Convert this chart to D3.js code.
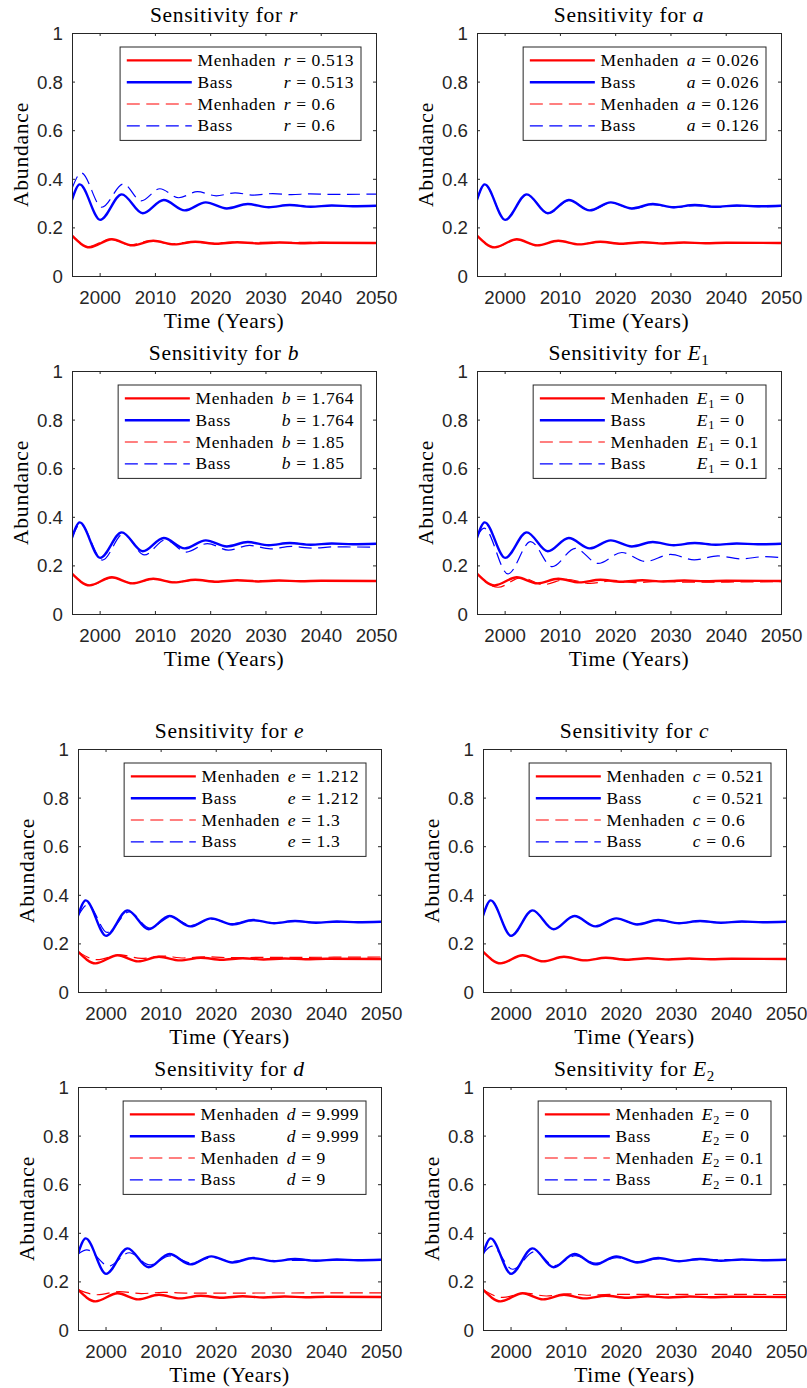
<!DOCTYPE html>
<html><head><meta charset="utf-8">
<script src="https://cdn.jsdelivr.net/npm/d3@7"></script>
<style>body{margin:0;background:#fff} svg{display:block}</style>
</head><body><svg id="chart" width="807" height="1388"></svg>
<script>
// ---------- data ----------
const xTicks = [2000, 2010, 2020, 2030, 2040, 2050];
const yTicks = [0, 0.2, 0.4, 0.6, 0.8, 1];
const params = ["r", "a", "b", "E1", "e", "c", "d", "E2"];
const baseValues = ["0.513", "0.026", "1.764", "0", "1.212", "0.521", "9.999", "0"];
const altValues = ["0.6", "0.126", "1.85", "0.1", "1.3", "0.6", "9", "0.1"];
const seriesNames = ["Menhaden", "Bass", "Menhaden", "Bass"];

// baseline (solid) trajectories
const baseBassT = [1995, 1996.4, 2000.1, 2004.0, 2007.8, 2011.6, 2015.4, 2019.2, 2023.0, 2026.8, 2030.6, 2034.4, 2038.2, 2042.0, 2045.8, 2050];
const baseBassV = [0.313, 0.377, 0.231, 0.336, 0.258, 0.313, 0.270, 0.303, 0.278, 0.296, 0.283, 0.292, 0.285, 0.290, 0.287, 0.289];
const baseMenT = [1995, 1998.2, 2002.2, 2005.9, 2009.7, 2013.5, 2017.3, 2021.1, 2024.9, 2028.7, 2032.5, 2036.3, 2040.1, 2050];
const baseMenV = [0.166, 0.118, 0.151, 0.126, 0.145, 0.130, 0.141, 0.133, 0.139, 0.134, 0.138, 0.135, 0.137, 0.136];

// dashed (altered parameter) trajectories
const rBassT = [1995, 1996.7, 2000.4, 2004.3, 2007.5, 2010.9, 2014.3, 2017.7, 2021.1, 2024.5, 2027.9, 2031.3, 2034.7, 2038.1, 2041.5, 2050];
const rBassV = [0.36, 0.424, 0.283, 0.379, 0.309, 0.359, 0.322, 0.347, 0.330, 0.342, 0.333, 0.339, 0.335, 0.338, 0.336, 0.337];
const rMenT = [1995, 1998.0, 2001.9, 2005.5, 2009.2, 2012.9, 2016.6, 2020.3, 2024.0, 2050];
const rMenV = [0.168, 0.121, 0.152, 0.128, 0.145, 0.132, 0.141, 0.134, 0.139, 0.137];

const aBassT = [1995, 1996.4, 2000.1, 2004.0, 2007.9, 2011.7, 2015.5, 2019.3, 2023.1, 2026.9, 2030.7, 2034.5, 2038.3, 2042.1, 2045.9, 2050];
const aBassV = [0.313, 0.376, 0.232, 0.335, 0.258, 0.311, 0.270, 0.301, 0.277, 0.294, 0.281, 0.290, 0.283, 0.288, 0.285, 0.286];
const aMenT = [1995, 1998.2, 2002.2, 2005.9, 2009.7, 2013.5, 2017.3, 2021.1, 2024.9, 2050];
const aMenV = [0.166, 0.118, 0.150, 0.126, 0.144, 0.130, 0.140, 0.133, 0.138, 0.136];

const bBassT = [1995, 1996.5, 2000.5, 2004.3, 2008.1, 2011.9, 2015.7, 2019.5, 2023.3, 2027.1, 2030.9, 2034.7, 2038.5, 2042.3, 2050];
const bBassV = [0.313, 0.370, 0.222, 0.330, 0.243, 0.305, 0.255, 0.290, 0.263, 0.282, 0.268, 0.278, 0.271, 0.276, 0.275];
const bMenT = [1995, 1998.3, 2002.3, 2006.0, 2009.8, 2013.6, 2017.4, 2021.2, 2025.0, 2050];
const bMenV = [0.166, 0.118, 0.150, 0.126, 0.144, 0.131, 0.140, 0.134, 0.138, 0.136];

const e1BassT = [1995, 1996.3, 2000.6, 2004.7, 2008.6, 2012.8, 2016.9, 2021.2, 2025.5, 2030.0, 2034.3, 2038.6, 2042.8, 2047.0, 2050];
const e1BassV = [0.320, 0.353, 0.165, 0.298, 0.195, 0.270, 0.208, 0.253, 0.216, 0.245, 0.223, 0.239, 0.227, 0.236, 0.232];
const e1MenT = [1995, 1998.8, 2003.0, 2007.0, 2011.2, 2015.5, 2019.8, 2024.0, 2028.3, 2032.6, 2050];
const e1MenV = [0.166, 0.110, 0.150, 0.121, 0.143, 0.126, 0.138, 0.129, 0.135, 0.131, 0.133];

const eBassT = [1995, 1996.8, 2000.3, 2004.3, 2008.0, 2011.8, 2015.5, 2019.3, 2023.0, 2026.8, 2030.6, 2034.4, 2038.2, 2050];
const eBassV = [0.313, 0.360, 0.245, 0.330, 0.263, 0.308, 0.274, 0.300, 0.281, 0.294, 0.285, 0.291, 0.287, 0.289];
const eMenT = [1995, 1998.5, 2002.6, 2006.5, 2010.3, 2014.2, 2018.0, 2021.9, 2050];
const eMenV = [0.166, 0.133, 0.153, 0.138, 0.148, 0.140, 0.145, 0.142, 0.144];

const cBassT = [1995, 1996.4, 2000.1, 2004.0, 2007.8, 2011.6, 2015.4, 2019.2, 2023.0, 2026.8, 2030.6, 2034.4, 2038.2, 2042.0, 2045.8, 2050];
const cBassV = [0.313, 0.377, 0.232, 0.335, 0.259, 0.312, 0.271, 0.302, 0.279, 0.295, 0.284, 0.291, 0.286, 0.289, 0.288, 0.289];
const cMenT = [1995, 1998.2, 2002.2, 2005.9, 2009.7, 2013.5, 2017.3, 2021.1, 2024.9, 2028.7, 2050];
const cMenV = [0.166, 0.119, 0.150, 0.127, 0.144, 0.131, 0.140, 0.134, 0.138, 0.135, 0.136];

const dBassT = [1995, 1996.6, 2000.6, 2004.3, 2008.0, 2011.7, 2015.5, 2019.3, 2023.0, 2026.8, 2030.6, 2050];
const dBassV = [0.313, 0.330, 0.263, 0.318, 0.268, 0.305, 0.276, 0.298, 0.282, 0.294, 0.286, 0.289];
const dMenT = [1995, 1998.5, 2002.5, 2006.5, 2010.5, 2014.5, 2050];
const dMenV = [0.166, 0.145, 0.158, 0.150, 0.155, 0.152, 0.153];

const e2BassT = [1995, 1996.6, 2000.4, 2004.3, 2008.0, 2011.8, 2015.5, 2019.3, 2023.0, 2026.8, 2030.6, 2034.4, 2050];
const e2BassV = [0.313, 0.345, 0.250, 0.322, 0.265, 0.306, 0.275, 0.298, 0.281, 0.293, 0.285, 0.290, 0.288];
const e2MenT = [1995, 1998.6, 2002.6, 2006.5, 2010.3, 2014.2, 2018.0, 2050];
const e2MenV = [0.166, 0.134, 0.152, 0.140, 0.149, 0.143, 0.147, 0.146];

const altBass = [[rBassT, rBassV], [aBassT, aBassV], [bBassT, bBassV], [e1BassT, e1BassV], [eBassT, eBassV], [cBassT, cBassV], [dBassT, dBassV], [e2BassT, e2BassV]];
const altMen = [[rMenT, rMenV], [aMenT, aMenV], [bMenT, bMenV], [e1MenT, e1MenV], [eMenT, eMenV], [cMenT, cMenV], [dMenT, dMenV], [e2MenT, e2MenV]];

// ---------- layout ----------
const colLeft = [[72, 477], [72, 477], [78, 483], [78, 483]];
const rowTop = [33, 371, 749, 1087];
const panelW = [304, 304, 303, 303];
const panelH = 243;
const RED = "#ff0000", BLUE = "#0000ff", AX = "#262626";
const SERIF = "'Liberation Serif', 'DejaVu Serif', 'Times New Roman', serif";
const SANS = "'Liberation Sans', Arial, Helvetica, sans-serif";
const DASH = "13,6.5";

const svg = d3.select("#chart");
const zip = (T, V) => T.map((t, i) => [t, V[i]]);

function addParam(textSel, p) {
  const sym = p[0], sub = p.length > 1 ? p.slice(1) : null;
  textSel.append("tspan").attr("font-style", "italic").text(sym);
  if (sub) {
    textSel.append("tspan").attr("font-size", "0.7em").attr("dy", "0.3em").text(sub);
    return true;
  }
  return false;
}

params.forEach((p, i) => {
  const row = Math.floor(i / 2), col = i % 2;
  const L = colLeft[row][col], T = rowTop[row], W = panelW[row], H = panelH;
  const g = svg.append("g").attr("transform", `translate(${L},${T})`);
  const x = d3.scaleLinear().domain([1995, 2050]).range([0, W]);
  const y = d3.scaleLinear().domain([0, 1]).range([H, 0]);

  const clipId = "clip" + i;
  g.append("clipPath").attr("id", clipId).append("rect").attr("width", W).attr("height", H);

  const line = d3.line().x(d => x(d[0])).y(d => y(d[1])).curve(d3.curveMonotoneX);
  const series = [
    { d: zip(baseMenT, baseMenV), c: RED, w: 2.4, dash: null },
    { d: zip(baseBassT, baseBassV), c: BLUE, w: 2.4, dash: null },
    { d: zip(altMen[i][0], altMen[i][1]), c: RED, w: 1.2, dash: DASH },
    { d: zip(altBass[i][0], altBass[i][1]), c: BLUE, w: 1.2, dash: DASH }
  ];
  const lg = g.append("g").attr("clip-path", `url(#${clipId})`);
  series.forEach(s => {
    lg.append("path").attr("d", line(s.d)).attr("fill", "none")
      .attr("stroke", s.c).attr("stroke-width", s.w)
      .attr("stroke-dasharray", s.dash).attr("stroke-linejoin", "round");
  });

  const gx = g.append("g").attr("transform", `translate(0,${H})`)
    .call(d3.axisBottom(x).tickValues(xTicks).tickSizeInner(-3).tickSizeOuter(0).tickFormat(d3.format("d")));
  const gy = g.append("g")
    .call(d3.axisLeft(y).tickValues(yTicks).tickSizeInner(-3).tickSizeOuter(0).tickPadding(9)
      .tickFormat(d => (d === 0 ? "0" : d === 1 ? "1" : d3.format(".1f")(d))));
  const gt = g.append("g").call(d3.axisTop(x).tickValues(xTicks).tickSizeInner(-3).tickSizeOuter(0).tickFormat(""));
  const gr = g.append("g").attr("transform", `translate(${W},0)`)
    .call(d3.axisRight(y).tickValues(yTicks).tickSizeInner(-3).tickSizeOuter(0).tickFormat(""));
  [gx, gy, gt, gr].forEach(a => {
    a.select(".domain").remove();
    a.selectAll("line").attr("stroke", AX).attr("stroke-width", 1);
    a.attr("font-family", SANS).attr("font-size", 18.7);
    a.selectAll("text").attr("fill", AX);
  });
  gx.selectAll("text").attr("y", 28).attr("dy", null);
  gy.selectAll("text").attr("dy", "0.35em");

  g.append("rect").attr("x", 0.5).attr("y", 0.5).attr("width", W).attr("height", H)
    .attr("fill", "none").attr("stroke", AX).attr("stroke-width", 1);

  const title = g.append("text").attr("x", W / 2).attr("y", -11).attr("text-anchor", "middle")
    .attr("font-family", SERIF).attr("font-size", 21.5).attr("letter-spacing", 0.7).attr("fill", "#000");
  title.append("tspan").text("Sensitivity for ");
  addParam(title, p);

  g.append("text").attr("x", W / 2).attr("y", H + 52).attr("text-anchor", "middle")
    .attr("font-family", SERIF).attr("font-size", 21.5).attr("letter-spacing", 0.7).attr("fill", "#000")
    .text("Time (Years)");
  g.append("text").attr("transform", `translate(-44,${H / 2}) rotate(-90)`).attr("text-anchor", "middle")
    .attr("font-family", SERIF).attr("font-size", 21.5).attr("letter-spacing", 0.8).attr("fill", "#000")
    .text("Abundance");

  const leg = g.append("g");
  const rowY = k => 13.4 + k * 21.8;
  const values = [baseValues[i], baseValues[i], altValues[i], altValues[i]];
  let maxW = 0;
  series.forEach((s, k) => {
    leg.append("line").attr("x1", 6.7).attr("x2", 71.7).attr("y1", rowY(k)).attr("y2", rowY(k))
      .attr("stroke", s.c).attr("stroke-width", s.w).attr("stroke-dasharray", s.dash);
    leg.append("text").attr("x", 77.4).attr("y", rowY(k) + 5.5)
      .attr("font-family", SERIF).attr("font-size", 17.5).attr("letter-spacing", 0.6).attr("fill", "#000")
      .text(seriesNames[k]);
    const pt = leg.append("text").attr("x", 163.7).attr("y", rowY(k) + 5.5)
      .attr("font-family", SERIF).attr("font-size", 17.5).attr("letter-spacing", 0.6).attr("fill", "#000");
    const hadSub = addParam(pt, p);
    pt.append("tspan").attr("dy", hadSub ? "-0.21em" : null).text(" = " + values[k]);
    maxW = Math.max(maxW, pt.node().getComputedTextLength());
  });
  const lw = 163.7 + maxW + 7;
  leg.insert("rect", ":first-child").attr("x", 0).attr("y", 0).attr("width", lw).attr("height", 93.4)
    .attr("fill", "#fff").attr("stroke", AX).attr("stroke-width", 1);
  leg.attr("transform", `translate(${W - 15 - lw},14)`);
});
</script>
</body></html>
